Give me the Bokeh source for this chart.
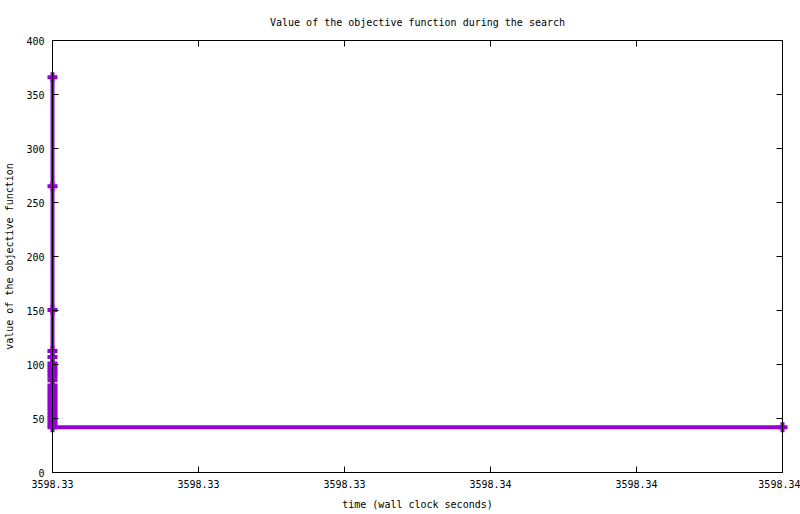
from bokeh.plotting import figure
from bokeh.models import Range1d, FixedTicker, LinearAxis
from bokeh.embed import file_html
from bokeh.resources import INLINE

# ---- data ----
time_s = [3598.330, 3598.330, 3598.330, 3598.330, 3598.330, 3598.330, 3598.330,
          3598.330, 3598.330, 3598.330, 3598.330, 3598.330, 3598.330, 3598.330,
          3598.330, 3598.330, 3598.330, 3598.330, 3598.330, 3598.330, 3598.330,
          3598.330, 3598.330, 3598.330, 3598.330,
          3598.340]
objective = [366, 265, 150.5, 112.5, 107, 101, 98, 95, 92, 89, 85.5, 80.5,
             77.5, 74.5, 71.5, 68.5, 65.5, 62.5, 59.5, 56.5, 53.5, 50.5, 47.5,
             44.5, 42,
             42]

x_ticks = [3598.330, 3598.332, 3598.334, 3598.336, 3598.338, 3598.340]
x_tick_labels = ["3598.33", "3598.33", "3598.33", "3598.34", "3598.34", "3598.34"]
y_ticks = [0, 50, 100, 150, 200, 250, 300, 350, 400]

title_text = "Value of the objective function during the search"
x_label = "time (wall clock seconds)"
y_label = "value of the objective function"

FONT = "DejaVu Sans Mono"
FS = "10px"
COLOR = "#9400D3"

p = figure(frame_width=730, frame_height=432,
           min_border_left=52, min_border_right=18,
           min_border_top=40, min_border_bottom=42,
           x_range=Range1d(x_ticks[0], x_ticks[-1]),
           y_range=Range1d(y_ticks[0], y_ticks[-1]),
           output_backend="svg", toolbar_location=None, tools="",
           title=title_text)

p.title.text_font = FONT
p.title.text_font_size = FS
p.title.text_font_style = "normal"
p.title.text_color = "black"
p.title.align = "center"
p.title.standoff = 25

p.xgrid.visible = False
p.ygrid.visible = False
p.outline_line_color = "black"
p.outline_line_width = 1
p.background_fill_color = "white"
p.border_fill_color = "white"

def style_axis(ax, labels=True):
    ax.major_tick_in = 6
    ax.major_tick_out = 0
    ax.minor_tick_in = 0
    ax.minor_tick_out = 0
    ax.minor_tick_line_color = None
    ax.axis_line_color = "black"
    ax.major_tick_line_color = "black"
    ax.major_label_text_font = FONT
    ax.major_label_text_font_size = FS if labels else "1px"
    ax.major_label_text_color = "black" if labels else None
    ax.axis_label_text_font = FONT
    ax.axis_label_text_font_size = FS
    ax.axis_label_text_font_style = "normal"
    ax.axis_label_text_color = "black"
    ax.level = "overlay"

xa = p.xaxis[0]
xa.ticker = FixedTicker(ticks=x_ticks)
xa.major_label_overrides = dict(zip(x_ticks, x_tick_labels))
xa.axis_label = x_label
style_axis(xa)
xa.major_label_standoff = 7
xa.axis_label_standoff = 8

ya = p.yaxis[0]
ya.ticker = FixedTicker(ticks=y_ticks)
ya.axis_label = y_label
style_axis(ya)
ya.major_label_standoff = 8
ya.axis_label_standoff = 8

ra = LinearAxis(ticker=FixedTicker(ticks=y_ticks), major_label_standoff=0)
style_axis(ra, labels=False)
p.add_layout(ra, "right")
ta = LinearAxis(ticker=FixedTicker(ticks=x_ticks), major_label_standoff=0)
style_axis(ta, labels=False)
p.add_layout(ta, "above")

p.line(time_s, objective, line_color=COLOR, line_width=4, level="annotation")
p.scatter(time_s, objective, marker="cross", size=10, line_color=COLOR,
          line_width=4, level="annotation")

open("out.html", "w").write(file_html(p, INLINE))
